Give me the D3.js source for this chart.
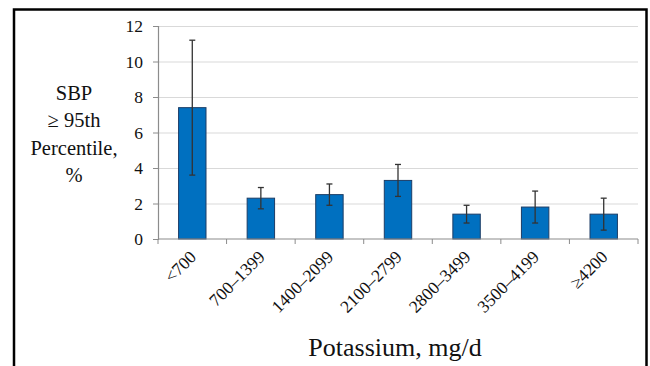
<!DOCTYPE html>
<html>
<head>
<meta charset="utf-8">
<script src="https://cdn.jsdelivr.net/npm/d3@7"></script>
<style>
  html, body { margin: 0; padding: 0; background: #fff; }
  svg { display: block; }
  svg text { fill: #111; }
</style>
</head>
<body>
<div id="chart"></div>
<script>
// SBP >= 95th percentile by potassium intake, with 95% CI error bars

const categories = ["<700", "700\u20131399", "1400\u20132099", "2100\u20132799", "2800\u20133499", "3500\u20134199", "\u22654200"];
const values = [7.4, 2.3, 2.5, 3.3, 1.4, 1.8, 1.4];
const lower = [3.6, 1.7, 1.9, 2.4, 0.9, 0.9, 0.5];
const upper = [11.2, 2.9, 3.1, 4.2, 1.9, 2.7, 2.3];
const yTicks = [0, 2, 4, 6, 8, 10, 12];
const yLabelLines = ["SBP", "\u2265 95th", "Percentile,", "%"];
const xTitle = "Potassium, mg/d";

const W = 650, H = 366;
const plot = { left: 158, right: 638, top: 26, bottom: 239 };
const serif = "'Liberation Serif', 'Tinos', 'Times New Roman', 'DejaVu Serif', serif";

const svg = d3.select("#chart").append("svg")
  .attr("width", W)
  .attr("height", H)
  .style("font-family", serif);

// outer frame
svg.append("rect")
  .attr("x", 14).attr("y", 9.5)
  .attr("width", 632.5).attr("height", 400)
  .attr("fill", "none")
  .attr("stroke", "#000")
  .attr("stroke-width", 2.5);

const x = d3.scaleBand()
  .domain(categories)
  .range([plot.left, plot.right])
  .paddingInner(0.6)
  .paddingOuter(0.3);

const y = d3.scaleLinear()
  .domain([0, 12])
  .range([plot.bottom, plot.top]);

// gridlines
svg.append("g")
  .selectAll("line")
  .data(yTicks.filter(t => t > 0))
  .join("line")
  .attr("x1", plot.left).attr("x2", plot.right)
  .attr("y1", d => y(d) + 0.5).attr("y2", d => y(d) + 0.5)
  .attr("stroke", "#d9d9d9")
  .attr("stroke-width", 1.2);

// y axis
const yAxis = svg.append("g")
  .attr("transform", `translate(${plot.left},0)`)
  .call(d3.axisLeft(y).tickValues(yTicks).tickSize(5).tickPadding(10))
  .attr("font-family", null)
  .attr("font-size", null);
yAxis.select(".domain").attr("stroke", "#8c8c8c").attr("stroke-width", 1.2);
yAxis.selectAll(".tick line").attr("stroke", "#8c8c8c");
yAxis.selectAll(".tick text")
  .style("font-size", "17.5px")
  .attr("fill", "#222");

// bars
svg.append("g")
  .selectAll("rect")
  .data(categories)
  .join("rect")
  .attr("x", d => x(d))
  .attr("width", x.bandwidth())
  .attr("y", (d, i) => y(values[i]))
  .attr("height", (d, i) => y(0) - y(values[i]))
  .attr("fill", "#0070c0")
  .attr("stroke", "#1c3d66")
  .attr("stroke-width", 1);

// error bars
const eb = svg.append("g")
  .attr("stroke", "#333")
  .attr("stroke-width", 1.3);
categories.forEach((c, i) => {
  const cx = x(c) + x.bandwidth() / 2;
  eb.append("line")
    .attr("x1", cx).attr("x2", cx)
    .attr("y1", y(upper[i])).attr("y2", y(lower[i]));
  [upper[i], lower[i]].forEach(v => {
    eb.append("line")
      .attr("x1", cx - 3).attr("x2", cx + 3)
      .attr("y1", y(v)).attr("y2", y(v));
  });
});

// x axis: band boundaries as ticks
const xAxisG = svg.append("g");
xAxisG.append("line")
  .attr("x1", plot.left).attr("x2", plot.right)
  .attr("y1", plot.bottom).attr("y2", plot.bottom)
  .attr("stroke", "#8c8c8c")
  .attr("stroke-width", 1.2);
const boundaries = d3.range(categories.length + 1).map(i => plot.left + i * (plot.right - plot.left) / categories.length);
xAxisG.selectAll("line.tick")
  .data(boundaries)
  .join("line")
  .attr("class", "tick")
  .attr("x1", d => d).attr("x2", d => d)
  .attr("y1", plot.bottom).attr("y2", plot.bottom + 5)
  .attr("stroke", "#8c8c8c");

// rotated category labels
svg.append("g")
  .selectAll("text")
  .data(categories)
  .join("text")
  .attr("transform", d => `translate(${x(d) + x.bandwidth() / 2 + 5},${plot.bottom + 19}) rotate(-45)`)
  .attr("text-anchor", "end")
  .style("font-size", "17.5px")
  .attr("fill", "#222")
  .text(d => d);

// y axis title
svg.append("text")
  .attr("x", 74)
  .attr("y", 100)
  .attr("text-anchor", "middle")
  .style("font-size", "20.5px")
  .selectAll("tspan")
  .data(yLabelLines)
  .join("tspan")
  .attr("x", 74)
  .attr("dy", (d, i) => i === 0 ? 0 : 27.3)
  .text(d => d);

// x axis title
svg.append("text")
  .attr("x", 395)
  .attr("y", 356)
  .attr("text-anchor", "middle")
  .style("font-size", "26px")
  .text(xTitle);
</script>
</body>
</html>
